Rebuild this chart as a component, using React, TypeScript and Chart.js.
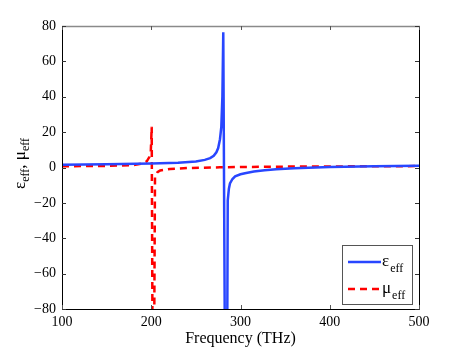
import React, { useEffect, useRef } from "react";
import { Chart, registerables } from "chart.js";

Chart.register(...registerables);

// epsilon_eff samples (frequency THz, value)
const epsFreq = [100, 150, 200, 230, 250, 260, 266, 270, 273, 275, 277, 278.5, 279.7, 280.7, 284.0, 285.7, 287, 288.2, 291, 294, 300, 305, 315, 327, 340, 360, 400, 450, 500];
const epsVals = [1.5, 1.8, 2.2, 2.7, 3.4, 4.3, 5.3, 6.6, 8.6, 11, 16, 23, 40, 76.4, -250, -18.6, -12, -9, -6.5, -5, -3.8, -3.2, -2.3, -1.6, -1.0, -0.4, 0.3, 0.7, 1.0];

// mu_eff samples
const muFreq = [100, 150, 180, 190, 195, 198, 199.5, 200.5, 202.2, 204.2, 207, 210, 221, 240, 277, 300, 350, 400, 500];
const muVals = [0.7, 0.9, 1.4, 2.3, 3.5, 6, 9, 23, -200, -5.5, -2.6, -1.7, -0.8, -0.3, 0.1, 0.3, 0.5, 0.6, 0.8];

const xTicks = [100, 200, 300, 400, 500];
const yTicks = [-80, -60, -40, -20, 0, 20, 40, 60, 80];

const SERIF = "'Liberation Serif', 'DejaVu Serif', serif";
const BLUE = "#2846ff";
const RED = "#ff0000";

const fmt = (v: number) => (v < 0 ? "\u2212" + Math.abs(v) : String(v));

const framePlugin = {
  id: "matlabFrame",
  afterDraw(chart: any) {
    const { ctx, chartArea, scales } = chart;
    const { left, right, top, bottom } = chartArea;
    ctx.save();
    // frame
    ctx.lineWidth = 1;
    ctx.strokeStyle = "#000";
    ctx.beginPath();
    ctx.moveTo(left + 0.5, top);
    ctx.lineTo(left + 0.5, bottom + 0.5);
    ctx.lineTo(right + 0.5, bottom + 0.5);
    ctx.lineTo(right + 0.5, top);
    ctx.stroke();
    ctx.strokeStyle = "#8a8a8a";
    ctx.lineWidth = 1.5;
    ctx.beginPath();
    ctx.moveTo(left, top + 0.5);
    ctx.lineTo(right + 1, top + 0.5);
    ctx.stroke();
    // ticks inward
    const tl = 4;
    ctx.lineWidth = 1;
    xTicks.forEach((v) => {
      const px = Math.round(scales.x.getPixelForValue(v)) + 0.5;
      ctx.strokeStyle = "#555";
      ctx.beginPath();
      ctx.moveTo(px, bottom);
      ctx.lineTo(px, bottom - tl);
      ctx.moveTo(px, top);
      ctx.lineTo(px, top + tl);
      ctx.stroke();
    });
    yTicks.forEach((v) => {
      const py = Math.round(scales.y.getPixelForValue(v)) + 0.5;
      ctx.strokeStyle = "#333";
      ctx.beginPath();
      ctx.moveTo(left, py);
      ctx.lineTo(left + tl, py);
      ctx.moveTo(right, py);
      ctx.lineTo(right - tl, py);
      ctx.stroke();
    });

    // y title with subscripts
    const mainF = "17px " + SERIF;
    const subF = "12px " + SERIF;
    const parts: [string, string, number][] = [
      ["\u03b5", mainF, 0],
      ["eff", subF, 4],
      [", ", mainF, 0],
      ["\u03bc", mainF, 0],
      ["eff", subF, 4],
    ];
    let total = 0;
    parts.forEach(([t, f]) => {
      ctx.font = f;
      total += ctx.measureText(t).width;
    });
    ctx.translate(25, (top + bottom) / 2 - 4);
    ctx.rotate(-Math.PI / 2);
    ctx.fillStyle = "#000";
    ctx.textBaseline = "alphabetic";
    ctx.textAlign = "left";
    let cx = -total / 2;
    parts.forEach(([t, f, dy]) => {
      ctx.font = f;
      ctx.fillText(t, cx, dy);
      cx += ctx.measureText(t).width;
    });
    ctx.restore();

    // legend
    ctx.save();
    const lx = 342.5, ly = 245.5, lw = 70, lh = 59;
    ctx.fillStyle = "#fff";
    ctx.fillRect(lx, ly, lw, lh);
    ctx.strokeStyle = "#555";
    ctx.lineWidth = 1;
    ctx.strokeRect(lx, ly, lw, lh);
    const rows: [string, string, number[], number][] = [
      [BLUE, "\u03b5", [], 262],
      [RED, "\u03bc", [7, 5], 289],
    ];
    rows.forEach(([c, sym, dash, y]) => {
      ctx.strokeStyle = c;
      ctx.lineWidth = 2.5;
      ctx.setLineDash(dash);
      ctx.beginPath();
      ctx.moveTo(348, y);
      ctx.lineTo(381, y);
      ctx.stroke();
      ctx.setLineDash([]);
      ctx.fillStyle = "#000";
      ctx.textBaseline = "alphabetic";
      ctx.textAlign = "left";
      ctx.font = mainF;
      ctx.fillText(sym, 382, y + 4);
      const w = ctx.measureText(sym).width;
      ctx.font = subF;
      ctx.fillText("eff", 382 + w + 1, y + 10);
    });
    ctx.restore();
  },
};

export default function App() {
  const ref = useRef<HTMLCanvasElement | null>(null);
  useEffect(() => {
    document.body.style.margin = "0";
    const canvas = ref.current;
    if (!canvas) return;
    const chart = new Chart(canvas, {
      type: "line",
      data: {
        datasets: [
          {
            label: "eps",
            data: epsFreq.map((f, i) => ({ x: f, y: epsVals[i] })),
            borderColor: BLUE,
            borderWidth: 2.5,
            pointRadius: 0,
            tension: 0,
            fill: false,
          },
          {
            label: "mu",
            data: muFreq.map((f, i) => ({ x: f, y: muVals[i] })),
            borderColor: RED,
            borderWidth: 2.5,
            borderDash: [7, 5],
            pointRadius: 0,
            tension: 0,
            fill: false,
          },
        ],
      },
      options: {
        responsive: false,
        animation: false,
        devicePixelRatio: 1,
        layout: { padding: { top: 26, right: 44, left: 0, bottom: 0 } },
        plugins: { legend: { display: false }, tooltip: { enabled: false } },
        scales: {
          x: {
            type: "linear",
            min: 100,
            max: 500,
            afterBuildTicks: (s: any) => {
              s.ticks = xTicks.map((v) => ({ value: v }));
            },
            afterFit: (s: any) => {
              s.height = 40;
            },
            grid: { display: false, drawTicks: false },
            border: { display: false },
            ticks: {
              font: { family: SERIF, size: 14 },
              color: "#000",
              padding: 5,
              maxRotation: 0,
              autoSkip: false,
              callback: (v: any) => fmt(Number(v)),
            },
            title: {
              display: true,
              text: "Frequency (THz)",
              font: { family: SERIF, size: 16 },
              color: "#000",
              padding: { top: 0, bottom: 1 },
            },
          },
          y: {
            type: "linear",
            min: -80,
            max: 80,
            afterBuildTicks: (s: any) => {
              s.ticks = yTicks.map((v) => ({ value: v }));
            },
            afterFit: (s: any) => {
              s.width = 62;
            },
            grid: { display: false, drawTicks: false },
            border: { display: false },
            ticks: {
              font: { family: SERIF, size: 14 },
              color: "#000",
              padding: 6,
              autoSkip: false,
              callback: (v: any) => fmt(Number(v)),
            },
          },
        },
      },
      plugins: [framePlugin],
    } as any);
    return () => chart.destroy();
  }, []);
  return <canvas ref={ref} width={463} height={349} style={{ display: "block" }} />;
}
